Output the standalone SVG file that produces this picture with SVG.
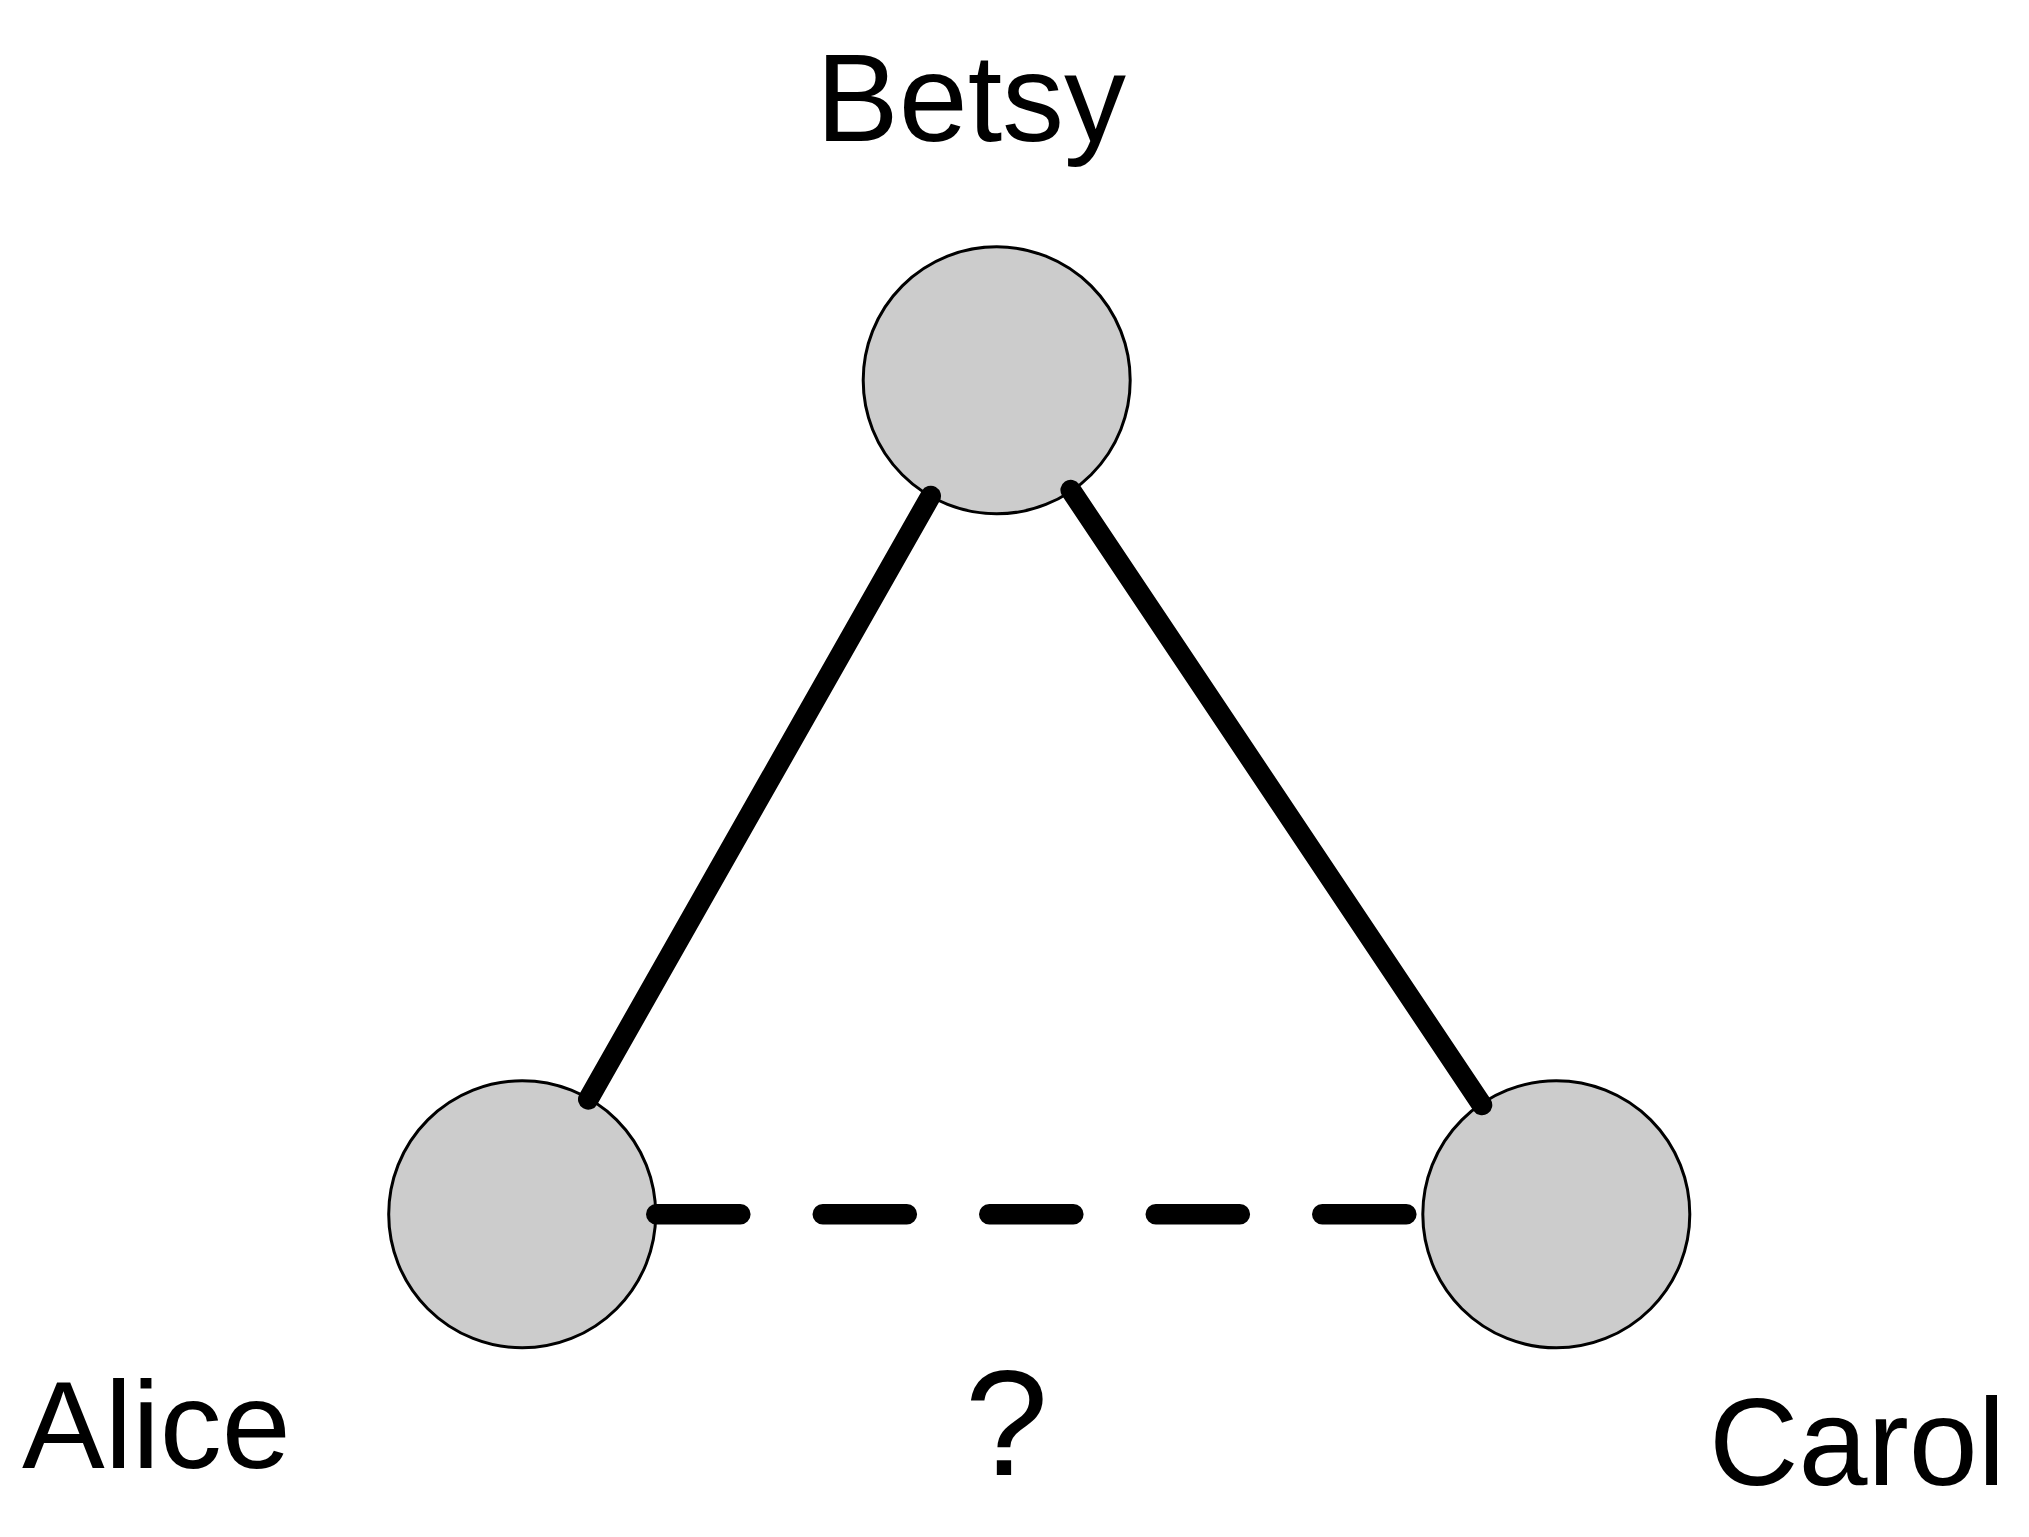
<svg xmlns="http://www.w3.org/2000/svg" width="2029" height="1537" viewBox="0 0 2029 1537">
  <style>
    .node { fill: #cccccc; stroke: #000000; stroke-width: 3; }
    .label { font-family: "Liberation Sans", Arial, Helvetica, sans-serif; font-size: 124px; fill: #000000; }
    .edge { fill: none; stroke: #000000; stroke-width: 20.6; stroke-linecap: round; }
    .dashed { stroke-dasharray: 84 82.5; }
  </style>
  <rect x="0" y="0" width="2029" height="1537" fill="#ffffff"/>
  <g id="node-betsy">
    <circle class="node" cx="996.7" cy="380.3" r="133.5"/>
    <text class="label" x="816" y="141">Betsy</text>
  </g>
  <g id="node-alice">
    <circle class="node" cx="522.2" cy="1214.3" r="133.5"/>
    <text class="label" x="22" y="1468">Alice</text>
  </g>
  <g id="node-carol">
    <circle class="node" cx="1556.3" cy="1214.3" r="133.5"/>
    <text class="label" x="1709" y="1485">Carol</text>
  </g>
  <g id="connectors">
    <line class="edge" x1="930.7" y1="496" x2="588.3" y2="1099.3"/>
    <line class="edge" x1="1070.7" y1="490" x2="1482" y2="1105"/>
    <line class="edge dashed" x1="656.3" y1="1214.3" x2="1422" y2="1214.3"/>
    <text class="label" x="1006.5" y="1475" text-anchor="middle" style="font-size:150px">?</text>
  </g>
</svg>
